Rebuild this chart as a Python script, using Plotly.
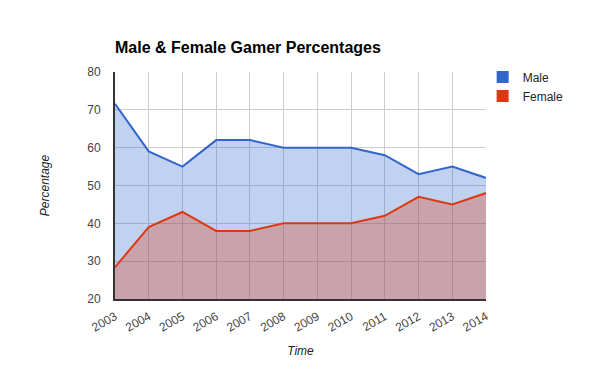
import plotly.graph_objects as go

years = [2003, 2004, 2005, 2006, 2007, 2008, 2009, 2010, 2011, 2012, 2013, 2014]
year_labels = [str(y) for y in years]
male = [71.6, 59, 55, 62, 62, 60, 60, 60, 58, 53, 55, 52]
female = [28.4, 39, 43, 38, 38, 40, 40, 40, 42, 47, 45, 48]
y_ticks = [20, 30, 40, 50, 60, 70, 80]

BLUE = "#3366cc"
RED = "#dc3912"
FONT = "Arial, Liberation Sans, sans-serif"

fig = go.Figure()
fig.add_trace(go.Scatter(x=years, y=male, mode="lines", name="Male",
                         line=dict(color=BLUE, width=2), fill="tozeroy",
                         fillcolor="rgba(51,102,204,0.3)", showlegend=False,
                         hoverinfo="skip"))
fig.add_trace(go.Scatter(x=years, y=female, mode="lines", name="Female",
                         line=dict(color=RED, width=2), fill="tozeroy",
                         fillcolor="rgba(220,57,18,0.3)", showlegend=False,
                         hoverinfo="skip"))
# legend proxies with square swatches
fig.add_trace(go.Scatter(x=[None], y=[None], mode="markers", name="Male",
                         marker=dict(symbol="square", size=12, color=BLUE)))
fig.add_trace(go.Scatter(x=[None], y=[None], mode="markers", name="Female",
                         marker=dict(symbol="square", size=12, color=RED)))

fig.update_layout(
    width=600, height=371,
    margin=dict(l=115, r=114, t=72, b=72),
    paper_bgcolor="white", plot_bgcolor="white",
    font=dict(family=FONT, size=12, color="#222"),
    title=dict(text="<b>Male & Female Gamer Percentages</b>",
               font=dict(family=FONT, size=16, color="#000"),
               xref="paper", x=0, xanchor="left",
               yref="container", y=1 - 47 / 371, yanchor="middle"),
    legend=dict(x=0.991, xanchor="left", y=1.042, yanchor="top",
                font=dict(family=FONT, size=12, color="#222"),
                itemwidth=30, tracegroupgap=0, bgcolor="rgba(0,0,0,0)"),
    xaxis=dict(range=[2003, 2014], tickvals=years, ticktext=year_labels,
               tickangle=-30, showgrid=True, gridcolor="#cccccc", gridwidth=1,
               showline=True, linecolor="#333333", linewidth=2,
               ticks="", zeroline=False, automargin=False, ticklabelstandoff=4,
               tickfont=dict(family=FONT, size=12, color="#444"),
               title=dict(text="<i>Time</i>", standoff=13,
                          font=dict(family=FONT, size=12, color="#222"))),
    yaxis=dict(range=[20, 80], tickvals=y_ticks, showgrid=True,
               gridcolor="#cccccc", gridwidth=1,
               showline=True, linecolor="#333333", linewidth=2,
               ticks="", zeroline=False, automargin=False, ticklabelstandoff=10,
               tickfont=dict(family=FONT, size=12, color="#444"),
               title=dict(text="<i>Percentage</i>", standoff=35,
                          font=dict(family=FONT, size=12, color="#222"))),
)

fig.write_html("out.html", config={"displayModeBar": False},
               post_script="document.body.style.margin='0';")
